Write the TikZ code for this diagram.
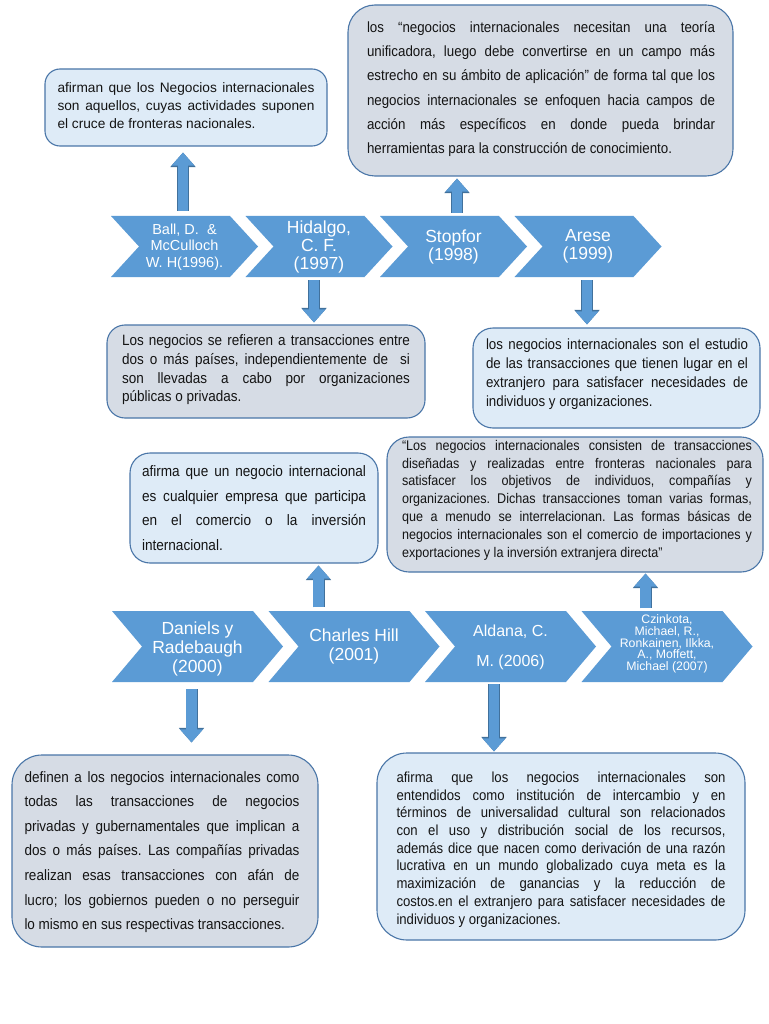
\documentclass[tikz,border=0pt]{standalone}
\usepackage{fontspec}
\setmainfont{Liberation Sans}
\newfontfamily\nf{Liberation Sans}[FakeStretch=0.9]
\frenchspacing
\usetikzlibrary{arrows.meta,calc}
\definecolor{chev}{HTML}{5B9BD5}
\definecolor{aedge}{HTML}{41719C}
\definecolor{bedge}{HTML}{4A76A8}
\definecolor{lightf}{HTML}{DEEBF7}
\definecolor{grayf}{HTML}{D6DCE5}
\definecolor{txtc}{HTML}{141414}
\newcommand\jl[1]{#1\linebreak}
\newcommand\chevron[5]{\fill[chevf] (#1,#2) -- ++(#3-#5,0) -- ++(#5,#4/2) -- ++(-#5,#4/2) -- ++(-#3+#5,0) -- ++(#5,-#4/2) -- cycle;}
\tikzset{
 bx/.style={draw=bedge, line width=1.1pt, rounded corners=#1, inner sep=0pt},
 lbox/.style={bx=#1, fill=lightf},
 gbox/.style={bx=#1, fill=grayf},
 txt/.style={inner sep=0pt, align=justify, text=txtc},
 chevf/.style={fill=chev},
 ctxt/.style={text=white, align=center, inner sep=0pt},
 barrow/.style={line width=10.5pt, draw=chev, -{Triangle[width=22pt,length=13pt]},
   preaction={draw=aedge, line width=12pt, -{Triangle[width=24.5pt,length=14.5pt]}}},
}
\begin{document}
\begin{tikzpicture}[x=1pt,y=-1pt]
\useasboundingbox (0,0) rectangle (768,1024);
\fill[white] (0,0) rectangle (768,1024);

% ---------- row 1 chevrons
\chevron{111}{216}{147}{61}{28}
\chevron{245.5}{216}{147}{61}{28}
\chevron{380}{216}{147}{61}{28}
\chevron{514.5}{216}{147}{61}{28}
\node[ctxt, font=\fontsize{14.5}{16.5}\selectfont] (n1) at (184.5,247) {Ball, D.\ \ \&\\McCulloch\\W. H(1996).};
\node[ctxt, font=\fontsize{17.5}{18}\selectfont] (n2) at (319,246.5) {Hidalgo,\\C. F.\\(1997)};
\node[ctxt, font=\fontsize{17.5}{18}\selectfont] (n3) at (453.5,246.5) {Stopfor\\(1998)};
\node[ctxt, font=\fontsize{17.5}{18}\selectfont] (n4) at (588,246.5) {Arese\\(1999)};

% ---------- row 2 chevrons
\chevron{112}{611}{171}{71}{30}
\chevron{268.5}{611}{171}{71}{30}
\chevron{425}{611}{171}{71}{30}
\chevron{581.5}{611}{171}{71}{30}
\node[ctxt, font=\fontsize{17.5}{19}\selectfont] (n5) at (197.5,649) {Daniels y\\Radebaugh\\(2000)};
\node[ctxt, font=\fontsize{17.5}{19}\selectfont] (n6) at (354,646) {Charles Hill\\(2001)};
\node[ctxt, font=\fontsize{16}{30}\selectfont] (n7) at (510.5,647) {Aldana, C.\\M. (2006)};
\node[ctxt, font=\fontsize{12.3}{11.7}\selectfont] (n8) at (667,644) {Czinkota,\\Michael, R.,\\Ronkainen, Ilkka,\\A., Moffett,\\Michael (2007)};

% ---------- boxes
\node[lbox=15, minimum width=282, minimum height=77] (bA) at (186,107.5) {};
\node[txt, text width=257, font=\fontsize{13.7}{18}\selectfont] (tA) at (186,106) {%
\jl{afirman que los Negocios internacionales}
\jl{son aquellos, cuyas actividades suponen}
el cruce de fronteras nacionales.};

\node[gbox=27, minimum width=385, minimum height=171] (bB) at (540.5,90.5) {};
\node[txt, text width=348, font=\nf\fontsize{14.8}{24.2}\selectfont] (tB) at (541,89) {%
\jl{los “negocios internacionales necesitan una teoría}
\jl{unificadora, luego debe convertirse en un campo más}
\jl{estrecho en su ámbito de aplicación” de forma tal que los}
\jl{negocios internacionales se enfoquen hacia campos de}
\jl{acción más específicos en donde pueda brindar}
herramientas para la construcción de conocimiento.};

\node[gbox=18, minimum width=318, minimum height=93] (bC) at (266,371.5) {};
\node[txt, text width=288, font=\nf\fontsize{15}{18.6}\selectfont] (tC) at (266,370) {%
\jl{Los negocios se refieren a transacciones entre}
\jl{dos o más países, independientemente de\ \ si}
\jl{son llevadas a cabo por organizaciones}
públicas o privadas.};

\node[lbox=20, minimum width=287, minimum height=100] (bD) at (616.5,378) {};
\node[txt, text width=262, font=\nf\fontsize{14.8}{19}\selectfont] (tD) at (617,374) {%
\jl{los negocios internacionales son el estudio}
\jl{de las transacciones que tienen lugar en el}
\jl{extranjero para satisfacer necesidades de}
individuos y organizaciones.};

\node[lbox=20, minimum width=248, minimum height=110] (bE) at (254,508) {};
\node[txt, text width=224, font=\nf\fontsize{15.1}{24.5}\selectfont] (tE) at (254,508) {%
\jl{afirma que un negocio internacional}
\jl{es cualquier empresa que participa}
\jl{en el comercio o la inversión}
internacional.};

\node[gbox=22, minimum width=376, minimum height=135] (bF) at (575,504.5) {};
\node[txt, text width=350, font=\nf\fontsize{14}{17.8}\selectfont] (tF) at (577,500) {%
\jl{“Los negocios internacionales consisten de transacciones}
\jl{diseñadas y realizadas entre fronteras nacionales para}
\jl{satisfacer los objetivos de individuos, compañías y}
\jl{organizaciones. Dichas transacciones toman varias formas,}
\jl{que a menudo se interrelacionan. Las formas básicas de}
\jl{negocios internacionales son el comercio de importaciones y}
exportaciones y la inversión extranjera directa”};

\node[gbox=30, minimum width=306, minimum height=192] (bG) at (165,851) {};
\node[txt, text width=275, font=\nf\fontsize{15}{24.6}\selectfont] (tG) at (162,852) {%
\jl{definen a los negocios internacionales como}
\jl{todas las transacciones de negocios}
\jl{privadas y gubernamentales que implican a}
\jl{dos o más países. Las compañías privadas}
\jl{realizan esas transacciones con afán de}
\jl{lucro; los gobiernos pueden o no perseguir}
lo mismo en sus respectivas transacciones.};

\node[lbox=30, minimum width=368, minimum height=187] (bH) at (561,846.5) {};
\node[txt, text width=329, font=\nf\fontsize{14.6}{17.7}\selectfont] (tH) at (561,849.5) {%
\jl{afirma que los negocios internacionales son}
\jl{entendidos como institución de intercambio y en}
\jl{términos de universalidad cultural son relacionados}
\jl{con el uso y distribución social de los recursos,}
\jl{además dice que nacen como derivación de una razón}
\jl{lucrativa en un mundo globalizado cuya meta es la}
\jl{maximización de ganancias y la reducción de}
\jl{costos.en el extranjero para satisfacer necesidades de}
individuos y organizaciones.};

% ---------- arrows
\coordinate (a1) at (183,216);
\coordinate (a2) at (457,216);
\coordinate (a3) at (314,277);
\coordinate (a4) at (587,277);
\coordinate (a5) at (318.5,611);
\coordinate (a6) at (645.5,611);
\coordinate (a7) at (191.5,682);
\coordinate (a8) at (494,682);
\draw[barrow, shorten <=5pt, shorten >=6pt] (a1) -- (a1 |- bA.south);
\draw[barrow, shorten <=3pt, shorten >=2pt] (a2) -- (a2 |- bB.south);
\draw[barrow, shorten <=3pt, shorten >=2pt] (a3) -- (a3 |- bC.north);
\draw[barrow, shorten <=3pt, shorten >=3pt] (a4) -- (a4 |- bD.north);
\draw[barrow, shorten <=4pt, shorten >=2pt] (a5) -- (a5 |- bE.south);
\draw[barrow, shorten <=3pt, shorten >=1pt] (a6) -- (a6 |- bF.south);
\draw[barrow, shorten <=7pt, shorten >=12pt] (a7) -- (a7 |- bG.north);
\draw[barrow, shorten <=2pt, shorten >=1pt] (a8) -- (a8 |- bH.north);
\end{tikzpicture}
\end{document}
